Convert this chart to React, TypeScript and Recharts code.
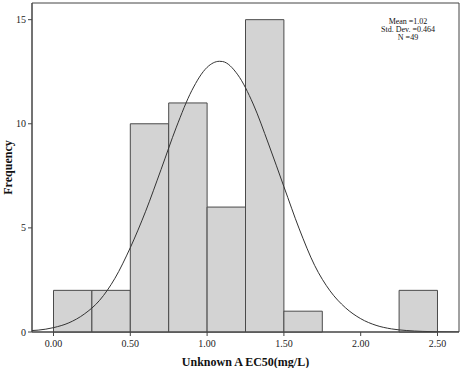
import {
  ComposedChart,
  Line,
  XAxis,
  YAxis,
  ReferenceArea,
} from "recharts";

// histogram bins (mg/L) and counts
const binStarts = [0.0, 0.25, 0.5, 0.75, 1.0, 1.25, 1.5, 1.75, 2.0, 2.25];
const binEnds = [0.25, 0.5, 0.75, 1.0, 1.25, 1.5, 1.75, 2.0, 2.25, 2.5];
const counts = [2, 2, 10, 11, 6, 15, 1, 0, 0, 2];

// fitted normal curve
const curveX = [-0.14, -0.1, 0.0, 0.1, 0.2, 0.3, 0.4, 0.5, 0.6, 0.7, 0.8, 0.9, 1.0, 1.08, 1.1, 1.2, 1.3, 1.4, 1.5, 1.6, 1.7, 1.8, 1.9, 2.0, 2.1, 2.2, 2.3, 2.4, 2.5, 2.64];
const curveY = [0.07, 0.09, 0.21, 0.44, 0.86, 1.52, 2.58, 4.05, 5.8, 7.8, 9.84, 11.59, 12.71, 13.0, 12.99, 12.35, 10.95, 9.03, 6.98, 4.95, 3.2, 1.98, 1.17, 0.64, 0.32, 0.15, 0.07, 0.03, 0.01, 0.0];

const xTicks = [0, 0.5, 1.0, 1.5, 2.0, 2.5];
const yTicks = [0, 5, 10, 15];
const stats = ["Mean =1.02", "Std. Dev. =0.464", "N =49"];

const curveData = curveX.map((x, i) => ({ x, y: curveY[i] }));

const FONT = "'Liberation Serif', 'DejaVu Serif', serif";
const AXIS = "#444";

export default function App() {
  return (
    <div
      style={{
        position: "absolute",
        left: 0,
        top: 0,
        width: 462,
        height: 368,
        background: "#fff",
        fontFamily: FONT,
      }}
    >
      <ComposedChart
        width={462}
        height={368}
        data={curveData}
        margin={{ top: 3, right: 3, left: 0, bottom: 0 }}
      >
        <XAxis
          dataKey="x"
          type="number"
          domain={[-0.14, 2.64]}
          ticks={xTicks}
          allowDataOverflow
          tickFormatter={(v) => Number(v).toFixed(2)}
          tick={{ fontSize: 10, fill: "#222", fontFamily: FONT, dy: 2 }}
          tickSize={4}
          stroke={AXIS}
          height={36}
          label={{
            value: "Unknown A EC50(mg/L)",
            position: "insideBottom",
            offset: 2,
            fill: "#111",
            fontSize: 12,
            fontWeight: "bold",
            fontFamily: FONT,
          }}
        />
        <YAxis
          type="number"
          domain={[0, 15.8]}
          ticks={yTicks}
          allowDataOverflow
          tick={{ fontSize: 10, fill: "#222", fontFamily: FONT }}
          tickSize={4}
          stroke={AXIS}
          width={32}
          label={{
            value: "Frequency",
            angle: -90,
            position: "insideLeft",
            offset: 8,
            textAnchor: "middle",
            fill: "#111",
            fontSize: 12,
            fontWeight: "bold",
            fontFamily: FONT,
          }}
        />
        {/* plot frame */}
        <ReferenceArea
          x1={-0.14}
          x2={2.64}
          y1={0}
          y2={15.8}
          fill="#fff"
          fillOpacity={0}
          stroke={AXIS}
          strokeOpacity={1}
          strokeWidth={1}
          ifOverflow="visible"
        />
        {binStarts.map((s, i) =>
          counts[i] > 0 ? (
            <ReferenceArea
              key={s}
              x1={s}
              x2={binEnds[i]}
              y1={0}
              y2={counts[i]}
              fill="#d3d3d3"
              fillOpacity={1}
              stroke="#4a4a4a"
              strokeOpacity={1}
              strokeWidth={1}
              ifOverflow="visible"
            />
          ) : null
        )}
        <Line
          dataKey="y"
          type="monotone"
          dot={false}
          activeDot={false}
          stroke="#333"
          strokeWidth={1}
          isAnimationActive={false}
        />
      </ComposedChart>
      <div
        style={{
          position: "absolute",
          left: 368,
          top: 18,
          width: 80,
          textAlign: "center",
          fontSize: 8,
          lineHeight: "8px",
          color: "#111",
        }}
      >
        {stats.map((s) => (
          <div key={s}>{s}</div>
        ))}
      </div>
    </div>
  );
}
